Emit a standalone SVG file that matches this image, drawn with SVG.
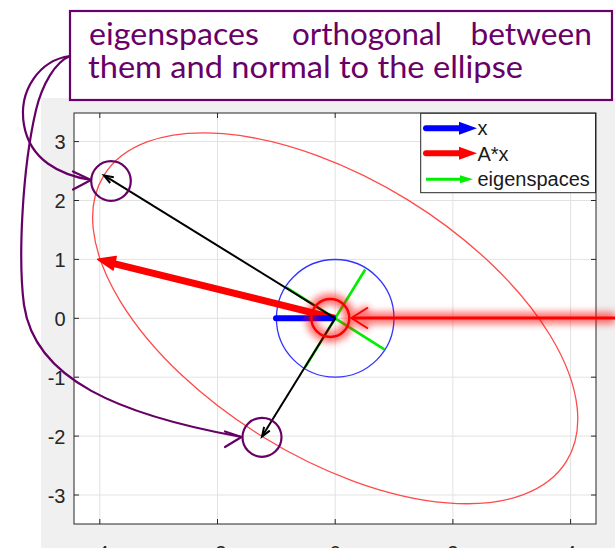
<svg xmlns="http://www.w3.org/2000/svg" width="615" height="548" viewBox="0 0 615 548">
<defs>
<style>
.grid{stroke:#e2e2e2;stroke-width:1;fill:none}
.tick{stroke:#262626;stroke-width:1;fill:none}
.tl{font-family:"Liberation Sans",Arial,sans-serif;font-size:20px;fill:#262626}
.lg{font-family:"Liberation Sans",Arial,sans-serif;font-size:20px;fill:#1a1a1a}
.blk{stroke:#000;stroke-width:2;fill:none}
.pur{stroke:#660066;stroke-width:2.2;fill:none;stroke-linecap:round;stroke-linejoin:round}
.note{font-family:Lato,"Open Sans",sans-serif;font-size:31px;fill:#680068}
</style>
<filter id="glow" filterUnits="userSpaceOnUse" x="0" y="0" width="615" height="548">
<feGaussianBlur stdDeviation="3.5"/>
</filter>
</defs>
<rect x="0" y="0" width="615" height="548" fill="#fff"/>
<rect x="41" y="98" width="574" height="450" fill="#f0f0f0"/>

<g id="axes">
<rect x="74" y="113" width="522" height="411" fill="#fff"/>
<g class="grid">
<path d="M99.8,113V524M217.5,113V524M335.2,113V524M452.9,113V524M570.6,113V524"/>
<path d="M74,141.6H596M74,200.5H596M74,259.4H596M74,318.3H596M74,377.2H596M74,436.1H596M74,495H596"/>
</g>
<rect x="74" y="113" width="522" height="411" class="tick"/>
<path class="tick" d="M99.8,524v-5M217.5,524v-5M335.2,524v-5M452.9,524v-5M570.6,524v-5M99.8,113v5M217.5,113v5M335.2,113v5M452.9,113v5M570.6,113v5"/>
<path class="tick" d="M74,141.6h5M74,200.5h5M74,259.4h5M74,318.3h5M74,377.2h5M74,436.1h5M74,495h5M596,141.6h-5M596,200.5h-5M596,259.4h-5M596,318.3h-5M596,377.2h-5M596,436.1h-5M596,495h-5"/>
<g class="tl" text-anchor="end">
<text x="65.5" y="149">3</text>
<text x="65.5" y="208">2</text>
<text x="65.5" y="267">1</text>
<text x="65.5" y="326">0</text>
<text x="65.5" y="385">-1</text>
<text x="65.5" y="444">-2</text>
<text x="65.5" y="502.5">-3</text>
</g>
<g class="tl" text-anchor="middle">
<text x="99.8" y="560">-4</text>
<text x="217.5" y="560">-2</text>
<text x="335.2" y="560">0</text>
<text x="452.9" y="560">2</text>
<text x="570.6" y="560">4</text>
</g>
</g>

<g id="ellipse">
<ellipse cx="335.2" cy="318.3" rx="271.9" ry="138.9" transform="rotate(31.7 335.2 318.3)" fill="none" stroke="#ff4a4a" stroke-width="1.3"/>
</g>
<g id="unit-circle">
<circle cx="335.2" cy="318.3" r="58.8" fill="none" stroke="#3333ff" stroke-width="1.3"/>
</g>

<g id="connectors">
<g id="eigenspaces" stroke="#00ee00" stroke-width="2.6">
<line x1="305.2" y1="367.1" x2="365.2" y2="269.5"/>
<line x1="286.1" y1="287.3" x2="384.3" y2="349.3"/>
</g>
<g id="Ax">
<line x1="335.2" y1="318.3" x2="114" y2="263.6" stroke="#ff0000" stroke-width="7"/>
<polygon points="97.7,259.3 113,270 116.2,256.6" fill="#ff0000" stroke="#ff0000" stroke-width="1.5" stroke-linejoin="round"/>
</g>
<g id="x">
<line x1="333" y1="318.3" x2="276" y2="318.3" stroke="#0000ff" stroke-width="6" stroke-linecap="round"/>
</g>
<g id="eig1">
<line class="blk" x1="335.2" y1="318.3" x2="104" y2="175.4"/>
<path class="blk" d="M113.8,177.2L104,175.4L110.2,183" stroke-linejoin="miter"/>
</g>
<g id="eig2">
<line class="blk" x1="335.2" y1="318.3" x2="262" y2="436.5"/>
<path class="blk" d="M269.8,430.6L262,436.5L264.1,426.9"/>
</g>
</g>

<g id="legend">
<rect x="420.7" y="113.3" width="174.8" height="79.4" fill="#fff" stroke="#262626" stroke-width="1"/>
<line x1="426" y1="128.3" x2="461" y2="128.3" stroke="#0000ff" stroke-width="6" stroke-linecap="round"/>
<polygon points="459,121.8 477,128.3 459,134.8" fill="#0000ff"/>
<text class="lg" x="477.5" y="135">x</text>
<line x1="426" y1="153.3" x2="461" y2="153.3" stroke="#ff0000" stroke-width="6" stroke-linecap="round"/>
<polygon points="459,146.8 477,153.3 459,159.8" fill="#ff0000"/>
<text class="lg" x="477.5" y="161">A*x</text>
<line x1="426" y1="179.3" x2="462" y2="179.3" stroke="#00ee00" stroke-width="3"/>
<polygon points="460,175.3 473,179.3 460,183.3" fill="#00ee00"/>
<text class="lg" x="477.5" y="186">eigenspaces</text>
</g>

<g id="highlight">
<g filter="url(#glow)" stroke="#ff0000" fill="none" opacity="0.55">
<circle cx="330.3" cy="318" r="19" stroke-width="11"/>
<line x1="352" y1="318" x2="615" y2="318" stroke-width="12"/>
<path d="M368,307.5L351.5,318L368,328.5" stroke-width="6"/>
</g>
<circle cx="330.3" cy="318" r="19" fill="none" stroke="#ff0000" stroke-width="2.5"/>
<line x1="352" y1="318" x2="615" y2="318" stroke="#ff0000" stroke-width="3"/>
<path d="M368,307.5L351.5,318L368,328.5" fill="none" stroke="#ff0000" stroke-width="2"/>
</g>

<g id="note">
<rect x="70" y="11" width="542" height="89" fill="#fff" stroke="#6a006a" stroke-width="2.2"/>
<text class="note" x="89" y="45" textLength="170" lengthAdjust="spacingAndGlyphs">eigenspaces</text>
<text class="note" x="292" y="45" textLength="150" lengthAdjust="spacingAndGlyphs">orthogonal</text>
<text class="note" x="470.5" y="45" textLength="121.5" lengthAdjust="spacingAndGlyphs">between</text>
<text class="note" x="88" y="78" textLength="435" lengthAdjust="spacingAndGlyphs">them and normal to the ellipse</text>
</g>

<g id="callouts">
<circle class="pur" cx="111" cy="181" r="19.8"/>
<circle class="pur" cx="262" cy="437.3" r="19.5"/>
<path class="pur" d="M70,56C40,60 18,90 24,125C30,160 60,175 91,180"/>
<path class="pur" d="M73,171.5L91,180L73,189.5"/>
<path class="pur" d="M70,56C55,62 42,85 36,110C22,170 18,260 24,305C35,380 120,415 241.5,437"/>
<path class="pur" d="M225,431.5L241.5,437L225,447"/>
</g>
</svg>
